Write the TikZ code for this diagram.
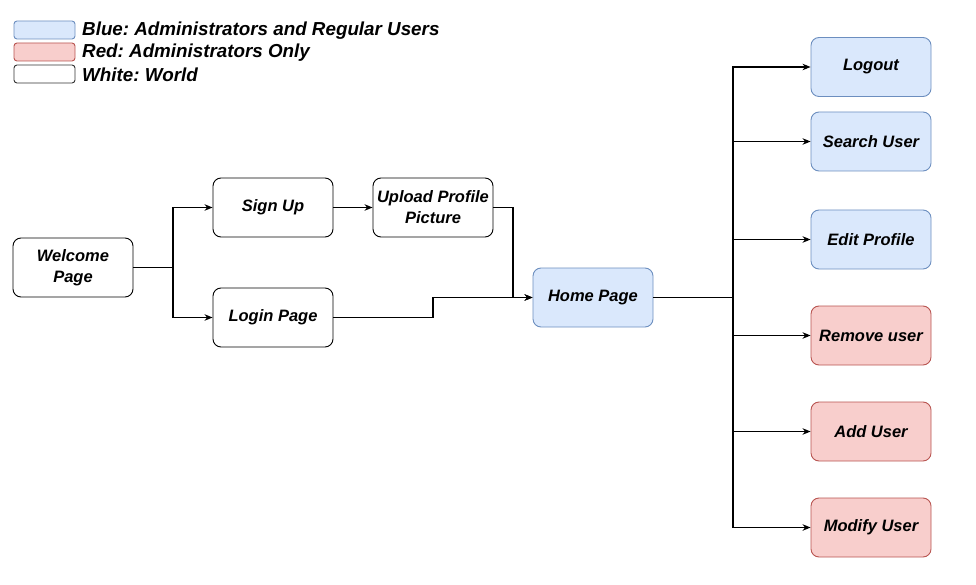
\documentclass[tikz,border=0pt]{standalone}
\usepackage{fontspec}
\setmainfont{Liberation Sans}
\usetikzlibrary{arrows.meta}
\definecolor{bfill}{HTML}{DAE8FC}
\definecolor{bdraw}{HTML}{6C8EBF}
\definecolor{rfill}{HTML}{F8CECC}
\definecolor{rdraw}{HTML}{B85450}
\begin{document}
\frenchspacing
\begin{tikzpicture}[x=1pt,y=-1pt,
  box/.style={draw, rounded corners=8pt, minimum width=120pt, minimum height=59pt,
    inner sep=2pt, align=center, line width=0.9pt,
    font=\fontsize{16.5}{21}\selectfont\bfseries\itshape},
  wbox/.style={box, draw=black, fill=white},
  bbox/.style={box, draw=bdraw, fill=bfill},
  rbox/.style={box, draw=rdraw, fill=rfill},
  lbox/.style={draw, rounded corners=3pt, minimum width=61pt, minimum height=18pt, inner sep=0pt, line width=0.9pt},
  ltext/.style={anchor=west, inner sep=0pt, font=\fontsize{18.8}{22}\selectfont\bfseries\itshape},
  lbl/.style={text depth=0pt, yshift=-1pt},
  conn/.style={line width=1.1pt, -{Stealth[length=8pt,width=6.5pt,inset=2.5pt]}},
  wire/.style={line width=1.1pt}]
\useasboundingbox (0,0) rectangle (976,585);
% legend
\node[lbox, draw=bdraw, fill=bfill] (lb) at (44.5,30) {};
\node[lbox, draw=rdraw, fill=rfill] (lr) at (44.5,52) {};
\node[lbox, draw=black!80, fill=white] (lw) at (44.5,74) {};
\node[ltext] (tb) at (82,30.5) {Blue: Administrators and Regular Users};
\node[ltext] (tr) at (82,52.5) {Red: Administrators Only};
\node[ltext] (tw) at (82,74.5) {White: World};
% nodes
\node[wbox] (welcome) at (73,267.5) {Welcome\\Page};
\node[wbox] (signup) at (273,207.5) {\raisebox{-1pt}{Sign Up}};
\node[wbox] (login) at (273,317.5) {\raisebox{-1pt}{Login Page}};
\node[wbox] (upload) at (433,207.5) {Upload Profile\\Picture};
\node[bbox] (home) at (593,297.5) {\raisebox{-1pt}{Home Page}};
\node[bbox] (logout) at (871,67) {\raisebox{-1.5pt}{Logout}};
\node[bbox] (search) at (871,141.5) {\raisebox{-1pt}{Search User}};
\node[bbox] (edit) at (871,239.5) {\raisebox{-1pt}{Edit Profile}};
\node[rbox] (remove) at (871,335.5) {\raisebox{-1pt}{Remove user}};
\node[rbox] (add) at (871,431.5) {\raisebox{-1pt}{Add User}};
\node[rbox] (modify) at (871,527.5) {\raisebox{-1pt}{Modify User}};
% connectors
\coordinate (j1) at (173,267.5);
\coordinate (j2) at (733,297.5);
\draw[wire] (welcome.east) -- (j1);
\draw[conn] (j1) |- (signup.west);
\draw[conn] (j1) |- (login.west);
\draw[conn] (signup.east) -- (upload.west);
\draw[conn] (upload.east) -- (513,207.5) |- (home.west);
\draw[conn] (login.east) -- (433,317.5) |- (home.west);
\draw[wire] (home.east) -- (j2);
\foreach \n in {logout,search,edit,remove,add,modify}{
  \draw[conn] (j2) |- (\n.west);
}
\end{tikzpicture}
\end{document}
